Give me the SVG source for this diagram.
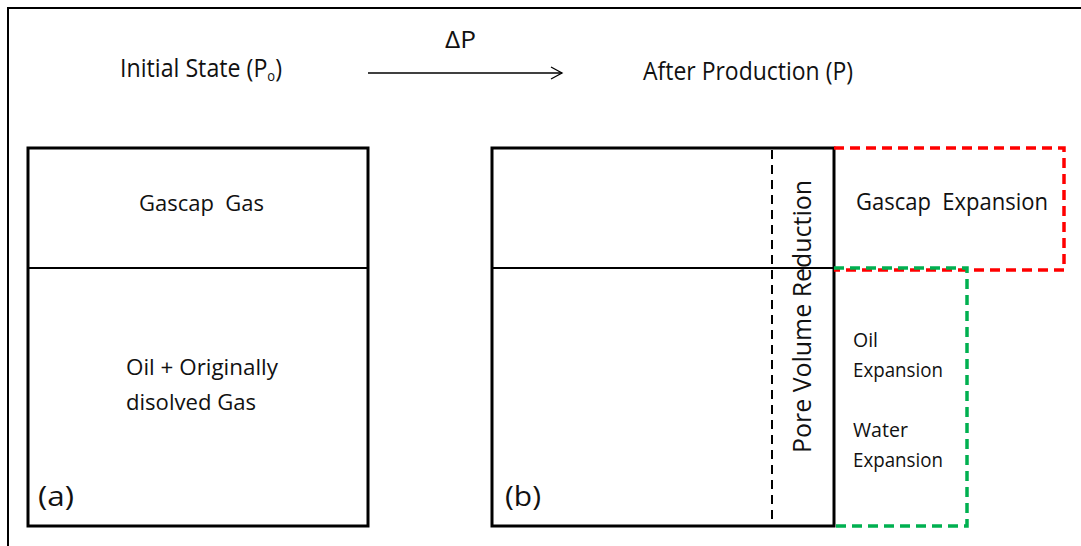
<svg xmlns="http://www.w3.org/2000/svg" width="1081" height="546" viewBox="0 0 1081 546">
  <defs>
    <style>
      text { font-family: "Open Sans", "Liberation Sans", sans-serif; fill: #111; }
      .box { fill: none; stroke: #000; stroke-width: 3; }
      .div { stroke: #000; stroke-width: 2; }
    </style>
    <marker id="open" markerWidth="14" markerHeight="14" refX="12" refY="7" orient="auto" markerUnits="userSpaceOnUse">
      <path d="M1,1 L12,7 L1,13" fill="none" stroke="#000" stroke-width="1.3"/>
    </marker>
  </defs>
  <rect width="1081" height="546" fill="#fff"/>

  <!-- outer frame (top and left edges) -->
  <path d="M8,546 L8,8 L1081,8" fill="none" stroke="#000" stroke-width="2"/>

  <!-- headings -->
  <g id="initial-state">
    <text x="120" y="77" font-size="25" textLength="162" lengthAdjust="spacingAndGlyphs">Initial State (P<tspan font-size="14" dy="4">o</tspan><tspan dy="-4">)</tspan></text>
  </g>
  <g id="after-production">
    <text x="643" y="80" font-size="25" textLength="210" lengthAdjust="spacingAndGlyphs">After Production (P)</text>
  </g>

  <g id="connectors">
    <line x1="368" y1="73" x2="562" y2="73" stroke="#000" stroke-width="1.3" marker-end="url(#open)"/>
    <text x="445" y="48" font-size="23" textLength="31" lengthAdjust="spacingAndGlyphs">ΔP</text>
  </g>

  <!-- (a) reservoir at initial state -->
  <g id="reservoir-a">
    <rect class="box" x="28" y="148" width="340" height="378"/>
    <line class="div" x1="28" y1="268" x2="368" y2="268"/>
    <text x="139" y="211" font-size="22" textLength="125" lengthAdjust="spacingAndGlyphs">Gascap&#160; Gas</text>
    <text x="126" y="375" font-size="22" textLength="152" lengthAdjust="spacingAndGlyphs">Oil + Originally</text>
    <text x="126" y="410" font-size="22" textLength="130" lengthAdjust="spacingAndGlyphs">disolved Gas</text>
    <text x="38" y="506" font-size="28" textLength="36" lengthAdjust="spacingAndGlyphs">(a)</text>
  </g>

  <!-- (b) reservoir after production -->
  <g id="reservoir-b">
    <rect class="box" x="492" y="148" width="342" height="378"/>
    <line class="div" x1="492" y1="268" x2="834" y2="268"/>
    <line x1="772" y1="150" x2="772" y2="526" stroke="#000" stroke-width="2" stroke-dasharray="9,6"/>
    <text transform="translate(811,316.5) rotate(-90)" text-anchor="middle" font-size="26" textLength="273" lengthAdjust="spacingAndGlyphs">Pore Volume Reduction</text>
    <text x="505" y="506" font-size="28" textLength="36" lengthAdjust="spacingAndGlyphs">(b)</text>
  </g>

  <!-- gascap expansion -->
  <g id="gascap-expansion">
    <path d="M834,148 L1064,148 L1064,270 L834,270" fill="none" stroke="#ff0000" stroke-width="3.5" stroke-dasharray="10,6"/>
    <text x="856" y="210" font-size="23" textLength="192" lengthAdjust="spacingAndGlyphs">Gascap&#160; Expansion</text>
  </g>

  <!-- oil and water expansion -->
  <g id="oil-water-expansion">
    <path d="M834,268 L967,268 L967,526 L834,526" fill="none" stroke="#00b050" stroke-width="3.5" stroke-dasharray="10,6"/>
    <text x="853" y="347" font-size="20" textLength="25" lengthAdjust="spacingAndGlyphs">Oil</text>
    <text x="853" y="377" font-size="20" textLength="90" lengthAdjust="spacingAndGlyphs">Expansion</text>
    <text x="853" y="437" font-size="20" textLength="55" lengthAdjust="spacingAndGlyphs">Water</text>
    <text x="853" y="467" font-size="20" textLength="90" lengthAdjust="spacingAndGlyphs">Expansion</text>
  </g>
</svg>
